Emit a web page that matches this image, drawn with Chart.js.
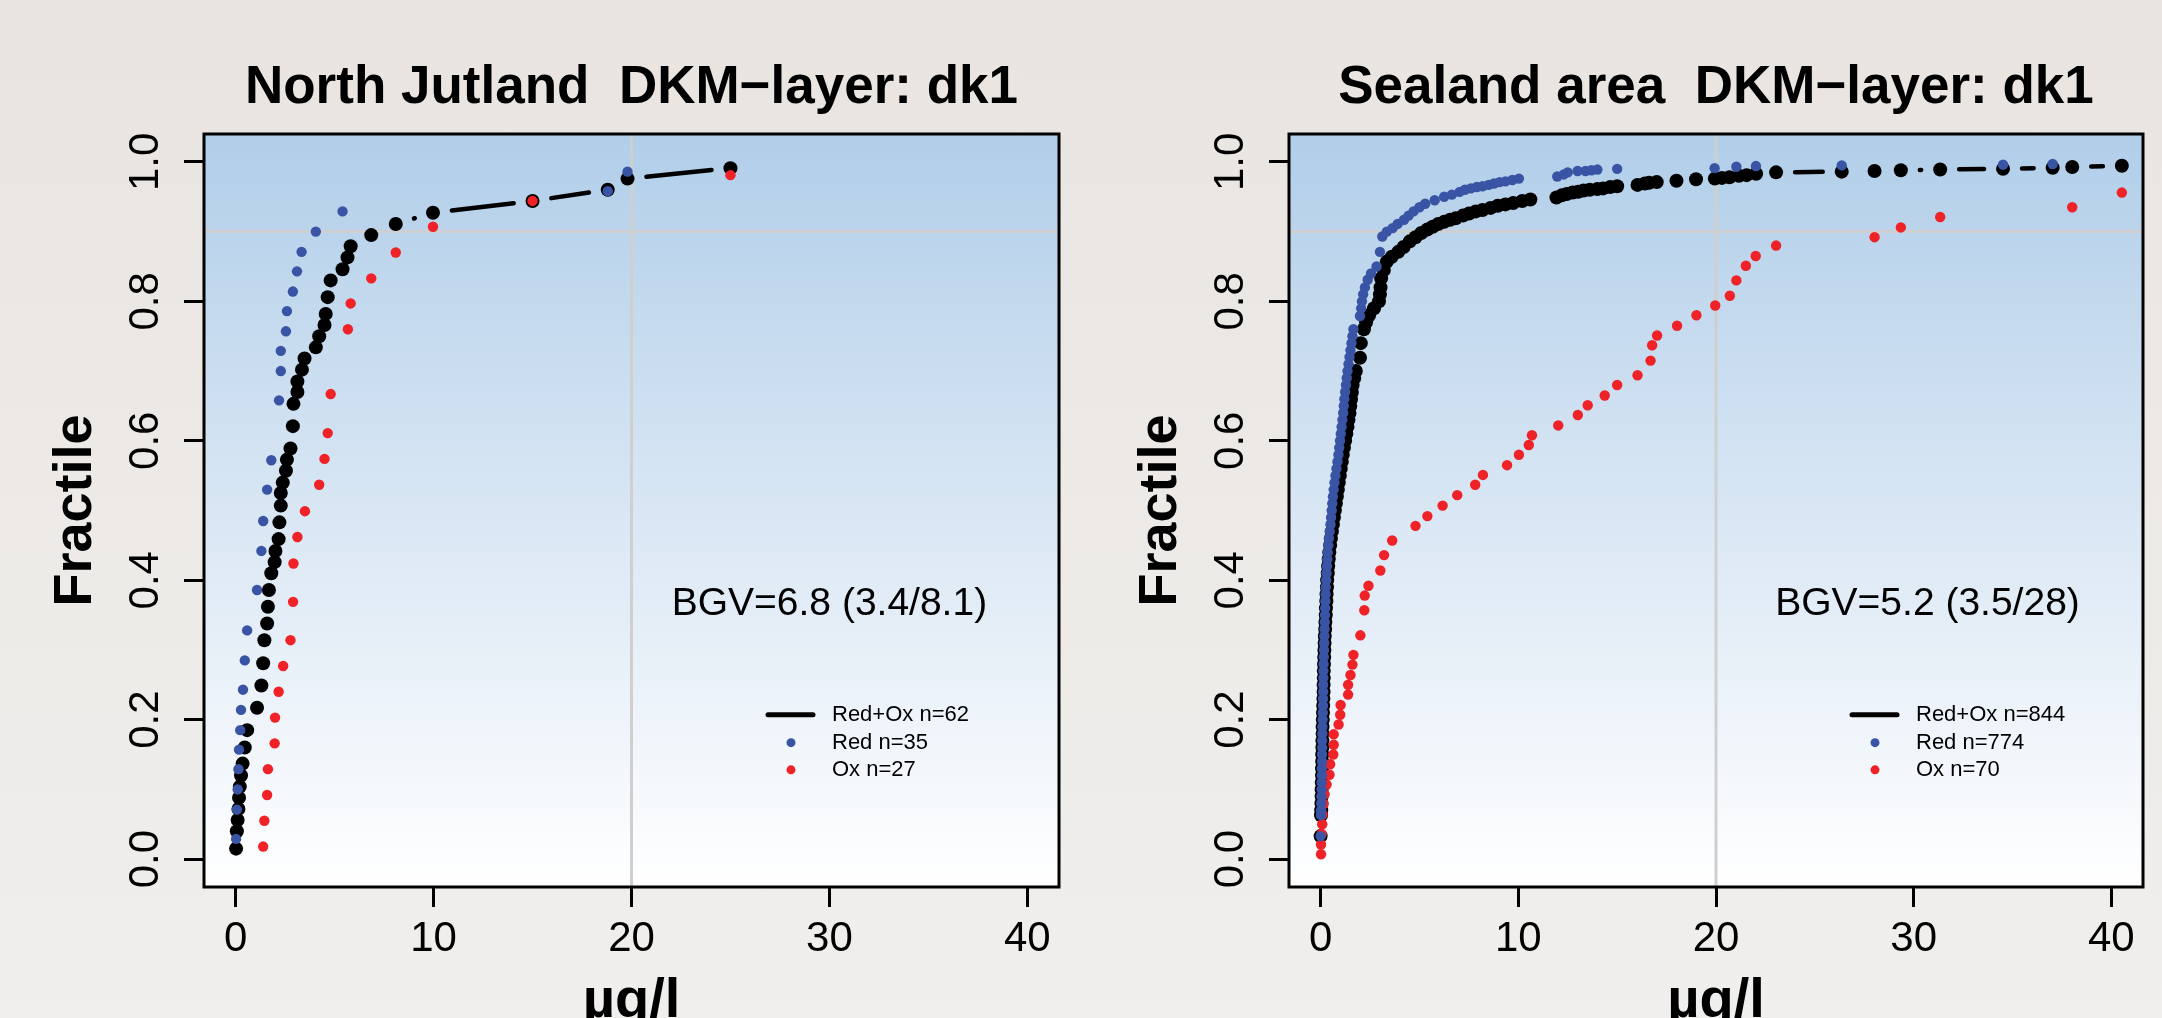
<!DOCTYPE html>
<html>
<head>
<meta charset="utf-8">
<title>Fractile plots, DKM-layer dk1</title>
<script src="https://cdn.jsdelivr.net/npm/chart.js@4.4.1/dist/chart.umd.min.js"></script>
<style>
  html, body { margin: 0; padding: 0; }
  body {
    width: 2162px; height: 1018px; overflow: hidden; position: relative;
    background: linear-gradient(#e9e4e0, #f0efed);
  }
  canvas { position: absolute; top: 0; }
  #northJutland { left: 0; }
  #sealand { left: 1081px; }
</style>
</head>
<body>
<canvas id="northJutland" width="1081" height="1018"></canvas>
<canvas id="sealand" width="1081" height="1018"></canvas>
<script>
// shared axis ticks and reference lines
const xTicks = [0, 10, 20, 30, 40];
const yTicks = [0, 0.2, 0.4, 0.6, 0.8, 1.0];
const refLineX = 20;
const refLineY = 0.9;

// North Jutland
const njTitle = "North Jutland  DKM\u2212layer: dk1";
const njBgv = "BGV=6.8 (3.4/8.1)";
const njLabels = ["Red+Ox n=62", "Red n=35", "Ox n=27"];
const njAllX = [0.02, 0.06, 0.10, 0.14, 0.17, 0.21, 0.27, 0.35, 0.46, 0.58, 1.08, 1.30, 1.39, 1.45, 1.59,
  1.63, 1.68, 1.80, 1.97, 2.01, 2.17, 2.21, 2.28, 2.28, 2.38, 2.54, 2.59, 2.77, 2.89, 2.92,
  3.12, 3.12, 3.35, 3.48, 4.05, 4.22, 4.49, 4.55, 4.65, 4.80, 5.40, 5.65, 5.81, 6.85, 8.09,
  9.97, 15.0, 18.8, 19.8, 25.0];
const njAllY = [0.015, 0.040, 0.056, 0.072, 0.088, 0.104, 0.120, 0.137, 0.160, 0.185, 0.217, 0.249, 0.281, 0.314, 0.338,
  0.362, 0.386, 0.410, 0.426, 0.442, 0.459, 0.483, 0.507, 0.525, 0.540, 0.557, 0.573, 0.589, 0.621, 0.653,
  0.670, 0.685, 0.702, 0.718, 0.734, 0.750, 0.766, 0.782, 0.806, 0.830, 0.846, 0.863, 0.879, 0.895, 0.911,
  0.927, 0.944, 0.960, 0.976, 0.991];
const njRedX = [0.02, 0.06, 0.10, 0.14, 0.17, 0.23, 0.27, 0.37, 0.46, 0.58, 1.08, 1.30, 1.39, 1.59, 1.80,
  2.19, 2.28, 2.28, 2.54, 2.59, 2.89, 3.10, 3.33, 4.05, 5.40, 18.8, 19.8];
const njRedY = [0.029, 0.071, 0.100, 0.129, 0.157, 0.185, 0.214, 0.243, 0.285, 0.328, 0.386, 0.442, 0.485, 0.530, 0.572,
  0.658, 0.700, 0.729, 0.757, 0.786, 0.814, 0.843, 0.871, 0.900, 0.929, 0.958, 0.986];
const njOxX = [1.39, 1.45, 1.59, 1.63, 1.97, 1.99, 2.17, 2.40, 2.77, 2.90, 2.92, 3.12, 3.50, 4.22, 4.49,
  4.65, 4.80, 5.67, 5.81, 6.85, 8.09, 9.97, 15.0, 25.0];
const njOxY = [0.018, 0.055, 0.092, 0.129, 0.166, 0.203, 0.240, 0.277, 0.314, 0.369, 0.424, 0.462, 0.499, 0.537, 0.574,
  0.611, 0.667, 0.760, 0.797, 0.833, 0.870, 0.907, 0.944, 0.981];

// Sealand area
const slTitle = "Sealand area  DKM\u2212layer: dk1";
const slBgv = "BGV=5.2 (3.5/28)";
const slLabels = ["Red+Ox n=844", "Red n=774", "Ox n=70"];
const slAllX = [0.0,
  0.02, 0.03, 0.04, 0.05, 0.05, 0.06, 0.07, 0.07, 0.08, 0.08, 0.09, 0.09, 0.10, 0.10, 0.11, 0.12, 0.13, 0.14, 0.15, 0.15,
  0.16, 0.16, 0.17, 0.18, 0.19, 0.20, 0.21, 0.23, 0.24, 0.26, 0.27, 0.29, 0.30, 0.32, 0.33, 0.36, 0.38, 0.41, 0.44, 0.48,
  0.52, 0.57, 0.62, 0.67, 0.72, 0.77, 0.82, 0.87, 0.92, 0.97, 1.02, 1.07, 1.12, 1.18, 1.24, 1.30, 1.36, 1.41, 1.46, 1.50,
  1.54, 1.58, 1.62, 1.70, 1.78,
  1.99, 2.03, 2.19, 2.30, 2.45, 2.70, 2.95, 3.00, 3.03, 3.06, 3.20, 3.35, 3.60, 3.93, 4.20, 4.51, 4.80, 5.09, 5.40, 5.67,
  5.95, 6.25, 6.55, 6.83, 7.20, 7.51, 7.85, 8.19, 8.60, 8.96, 9.35, 9.74, 10.2, 10.61, 11.93, 12.2, 12.45, 12.75, 13.03, 13.3,
  13.61, 14.0, 14.29, 14.65, 15.0, 16.03, 16.4, 16.62, 17.0, 18.0, 18.99, 19.94, 20.3, 20.68, 21.16, 21.55, 22.03, 23.04,
  26.36, 28.02, 29.35, 31.34, 34.52, 37.03, 38.02, 40.53];
const slAllY = [0.033,
  0.063, 0.07, 0.08, 0.09, 0.10, 0.11, 0.12, 0.13, 0.14, 0.15, 0.16, 0.17, 0.18, 0.19, 0.20, 0.21, 0.22, 0.23, 0.24, 0.25,
  0.26, 0.27, 0.28, 0.29, 0.30, 0.31, 0.32, 0.33, 0.34, 0.35, 0.36, 0.37, 0.38, 0.39, 0.40, 0.41, 0.42, 0.43, 0.44, 0.45,
  0.46, 0.47, 0.48, 0.49, 0.50, 0.51, 0.52, 0.53, 0.54, 0.55, 0.56, 0.57, 0.58, 0.59, 0.60, 0.61, 0.62, 0.63, 0.64, 0.65,
  0.66, 0.67, 0.68, 0.69, 0.70,
  0.719, 0.74, 0.76, 0.77, 0.78, 0.79, 0.80, 0.81, 0.82, 0.833, 0.845, 0.857, 0.864, 0.871, 0.878, 0.886, 0.892, 0.898, 0.903, 0.907,
  0.911, 0.914, 0.917, 0.919, 0.923, 0.926, 0.929, 0.931, 0.934, 0.937, 0.939, 0.941, 0.944, 0.946, 0.949, 0.952, 0.954, 0.956, 0.957, 0.959,
  0.960, 0.961, 0.962, 0.964, 0.965, 0.967, 0.969, 0.970, 0.971, 0.973, 0.975, 0.976, 0.977, 0.978, 0.980, 0.981, 0.983, 0.985,
  0.986, 0.987, 0.988, 0.989, 0.990, 0.9916, 0.9926, 0.9945];
const slRedX = [0.0,
  0.02, 0.02, 0.03, 0.04, 0.05, 0.05, 0.06, 0.06, 0.07, 0.07, 0.08, 0.08, 0.09, 0.09, 0.10, 0.11, 0.12, 0.12, 0.13, 0.13,
  0.14, 0.14, 0.15, 0.16, 0.17, 0.18, 0.19, 0.20, 0.21, 0.22, 0.23, 0.24, 0.25, 0.26, 0.28, 0.30, 0.32, 0.34, 0.36, 0.39,
  0.42, 0.46, 0.50, 0.53, 0.56, 0.59, 0.62, 0.66, 0.70, 0.75, 0.80, 0.85, 0.90, 0.94, 0.98, 1.02, 1.06, 1.10, 1.14, 1.17,
  1.20, 1.24, 1.28, 1.32, 1.36, 1.41, 1.46, 1.51, 1.56, 1.61, 1.66,
  1.99, 2.05, 2.09, 2.15, 2.24, 2.38, 2.55, 2.83, 3.00, 3.12, 3.35, 3.64, 3.90, 4.22, 4.45, 4.70, 5.00, 5.29, 5.77, 6.25,
  6.64, 7.03, 7.30, 7.60, 7.90, 8.19, 8.50, 8.77, 9.05, 9.35, 9.70, 10.03, 11.97, 12.3, 12.5, 13.0, 13.4, 13.7, 14.0, 15.0,
  19.93, 21.03, 22.02, 26.36, 34.52, 37.03];
const slRedY = [0.033,
  0.063, 0.07, 0.08, 0.09, 0.10, 0.11, 0.12, 0.13, 0.14, 0.15, 0.16, 0.17, 0.18, 0.19, 0.20, 0.21, 0.22, 0.23, 0.24, 0.25,
  0.26, 0.27, 0.28, 0.29, 0.30, 0.31, 0.32, 0.33, 0.34, 0.35, 0.36, 0.37, 0.38, 0.39, 0.40, 0.41, 0.42, 0.43, 0.44, 0.45,
  0.46, 0.47, 0.48, 0.49, 0.50, 0.51, 0.52, 0.53, 0.54, 0.55, 0.56, 0.57, 0.58, 0.59, 0.60, 0.61, 0.62, 0.63, 0.64, 0.65,
  0.66, 0.67, 0.68, 0.69, 0.70, 0.71, 0.72, 0.73, 0.74, 0.75, 0.76,
  0.779, 0.79, 0.80, 0.81, 0.82, 0.831, 0.84, 0.85, 0.871, 0.893, 0.900, 0.905, 0.911, 0.917, 0.923, 0.929, 0.935, 0.940, 0.945, 0.950,
  0.953, 0.957, 0.960, 0.962, 0.964, 0.965, 0.967, 0.969, 0.971, 0.972, 0.974, 0.976, 0.979, 0.982, 0.985, 0.987, 0.987, 0.988, 0.989, 0.990,
  0.991, 0.993, 0.994, 0.995, 0.996, 0.997];
const slOxX = [0.02, 0.02, 0.05, 0.08, 0.10, 0.15, 0.20, 0.30, 0.45, 0.48, 0.64, 0.66, 0.66, 0.91, 0.99,
  1.01, 1.39, 1.39, 1.51, 1.61, 1.66, 2.01, 2.21, 2.23, 2.42, 3.02, 3.21, 3.62, 4.80, 5.40,
  6.17, 6.91, 7.82, 8.21, 9.43, 10.03, 10.53, 10.69, 12.02, 13.01, 13.51, 14.37, 15.0, 16.03, 16.69,
  16.77, 17.02, 18.03, 19.01, 19.96, 20.70, 21.03, 21.51, 22.01, 23.04, 28.02, 29.35, 31.34, 38.02, 40.53];
const slOxY = [0.007, 0.021, 0.036, 0.050, 0.064, 0.079, 0.093, 0.107, 0.121, 0.136, 0.150, 0.164, 0.179, 0.193, 0.207,
  0.221, 0.236, 0.250, 0.264, 0.279, 0.293, 0.321, 0.357, 0.378, 0.392, 0.414, 0.436, 0.457, 0.478, 0.492,
  0.507, 0.522, 0.537, 0.551, 0.565, 0.580, 0.594, 0.608, 0.622, 0.637, 0.651, 0.665, 0.680, 0.694, 0.715,
  0.737, 0.751, 0.765, 0.780, 0.794, 0.808, 0.830, 0.851, 0.865, 0.880, 0.892, 0.906, 0.921, 0.935, 0.956];

const plain = '"Liberation Sans", Arial, sans-serif';
const blue = "#3a54a5";
const red = "#ee2227";

function points(xs, ys) {
  return xs.map((x, i) => ({ x: x, y: ys[i] }));
}

// like R's type="b": the line stops short of each point
const GAP = 19;
function segLength(c) {
  return Math.hypot(c.p1.x - c.p0.x, c.p1.y - c.p0.y);
}

const panelDecor = {
  id: "panelDecor",
  beforeDraw(chart) {
    const { ctx, chartArea: a } = chart;
    const xs = chart.scales.x, ys = chart.scales.y;
    ctx.save();
    const g = ctx.createLinearGradient(0, a.top, 0, a.bottom);
    g.addColorStop(0, "#b1cee9");
    g.addColorStop(0.55, "#dde9f5");
    g.addColorStop(1, "#ffffff");
    ctx.fillStyle = g;
    ctx.fillRect(a.left, a.top, a.width, a.height);

    // grey reference lines
    const px = xs.getPixelForValue(refLineX);
    const py = ys.getPixelForValue(refLineY);
    ctx.strokeStyle = "#cfcfcf";
    ctx.lineWidth = 3;
    ctx.beginPath();
    ctx.moveTo(px, a.top); ctx.lineTo(px, a.bottom);
    ctx.moveTo(a.left, py); ctx.lineTo(a.right, py);
    ctx.stroke();
    ctx.restore();
  },
  afterDraw(chart, args, o) {
    const { ctx, chartArea: a } = chart;
    const xs = chart.scales.x, ys = chart.scales.y;
    ctx.save();
    ctx.strokeStyle = "#000";
    ctx.lineWidth = 3;
    ctx.strokeRect(a.left, a.top, a.width, a.height);

    // title
    ctx.fillStyle = "#000";
    ctx.font = "bold 53px " + plain;
    ctx.textAlign = "center";
    ctx.textBaseline = "alphabetic";
    ctx.fillText(o.title, (a.left + a.right) / 2, o.titleBaseline);

    // BGV note
    ctx.font = "39px " + plain;
    ctx.textBaseline = "middle";
    ctx.fillText(o.bgv, xs.getPixelForValue(o.bgvX), ys.getPixelForValue(o.bgvY));

    // legend
    ctx.font = "22px " + plain;
    ctx.textAlign = "left";
    chart.data.datasets.forEach((d, i) => {
      const y = ys.getPixelForValue(o.legendY[i]);
      if (d.showLine) {
        ctx.lineWidth = 5;
        ctx.lineCap = "round";
        ctx.beginPath();
        ctx.moveTo(a.right - 291, y);
        ctx.lineTo(a.right - 246, y);
        ctx.stroke();
      } else {
        ctx.fillStyle = d.pointBackgroundColor;
        ctx.beginPath();
        ctx.arc(a.right - 268, y, 4.5, 0, Math.PI * 2);
        ctx.fill();
      }
      ctx.fillStyle = "#000";
      ctx.fillText(d.label, a.right - 227, y);
    });
    ctx.restore();
  }
};

function makePanel(id, p) {
  const tickGrid = {
    drawOnChartArea: false, drawTicks: true,
    tickLength: 20, tickWidth: 3, tickColor: "#000"
  };
  return new Chart(document.getElementById(id), {
    type: "scatter",
    data: {
      datasets: [
        {
          label: p.labels[0],
          data: points(p.allX, p.allY),
          showLine: true,
          borderColor: "#000",
          borderWidth: 4.5,
          borderCapStyle: "round",
          pointBackgroundColor: "#000",
          pointBorderWidth: 0,
          pointRadius: 7,
          order: 3,
          segment: {
            borderColor: c => segLength(c) > 2 * GAP ? "#000" : "rgba(0,0,0,0)",
            borderDash: c => {
              const L = segLength(c);
              return L > 2 * GAP ? [0, GAP, L - 2 * GAP, GAP] : [];
            }
          }
        },
        {
          label: p.labels[1],
          data: points(p.redX, p.redY),
          showLine: false,
          pointBackgroundColor: blue,
          pointBorderWidth: 0,
          pointRadius: 5.2,
          order: 1
        },
        {
          label: p.labels[2],
          data: points(p.oxX, p.oxY),
          showLine: false,
          pointBackgroundColor: red,
          pointBorderWidth: 0,
          pointRadius: 5.2,
          order: 2
        }
      ]
    },
    options: {
      responsive: false,
      animation: false,
      devicePixelRatio: 1,
      events: [],
      layout: { padding: { top: 134, right: p.padRight, bottom: 0, left: 0 } },
      scales: {
        x: {
          type: "linear",
          min: -1.6,
          max: 41.6,
          afterBuildTicks: s => { s.ticks = xTicks.map(v => ({ value: v })); },
          afterFit: s => { s.height = 131; },
          grid: tickGrid,
          border: { display: false },
          ticks: {
            color: "#000",
            font: { family: plain, size: 42 },
            padding: 7,
            autoSkip: false,
            maxRotation: 0,
            minRotation: 0,
            callback: v => String(v)
          },
          title: {
            display: true,
            text: "\u00b5g/l",
            color: "#000",
            font: { family: plain, size: 56, weight: "bold" },
            padding: { top: 0, bottom: -17 }
          }
        },
        y: {
          type: "linear",
          min: -0.04,
          max: 1.04,
          afterBuildTicks: s => { s.ticks = yTicks.map(v => ({ value: v })); },
          afterFit: s => { s.width = p.axisWidth; },
          grid: tickGrid,
          border: { display: false },
          ticks: {
            color: "#000",
            font: { family: plain, size: 42 },
            padding: 8,
            autoSkip: false,
            minRotation: 90,
            maxRotation: 90,
            crossAlign: "center",
            callback: v => v.toFixed(1)
          },
          title: {
            display: true,
            text: "Fractile",
            color: "#000",
            font: { family: plain, size: 54, weight: "bold" },
            padding: { top: p.yTitlePad, bottom: 0 }
          }
        }
      },
      plugins: {
        legend: { display: false },
        tooltip: { enabled: false },
        panelDecor: {
          title: p.title,
          titleBaseline: 103,
          bgv: p.bgv,
          bgvX: p.bgvX,
          bgvY: 0.365,
          legendY: [0.207, 0.167, 0.128]
        }
      }
    },
    plugins: [panelDecor]
  });
}

makePanel("northJutland", {
  title: njTitle, bgv: njBgv, labels: njLabels,
  allX: njAllX, allY: njAllY, redX: njRedX, redY: njRedY, oxX: njOxX, oxY: njOxY,
  axisWidth: 204, padRight: 22, yTitlePad: 44, bgvX: 30
});

makePanel("sealand", {
  title: slTitle, bgv: slBgv, labels: slLabels,
  allX: slAllX, allY: slAllY, redX: slRedX, redY: slRedY, oxX: slOxX, oxY: slOxY,
  axisWidth: 208, padRight: 19, yTitlePad: 48, bgvX: 30.7
});
</script>
</body>
</html>
